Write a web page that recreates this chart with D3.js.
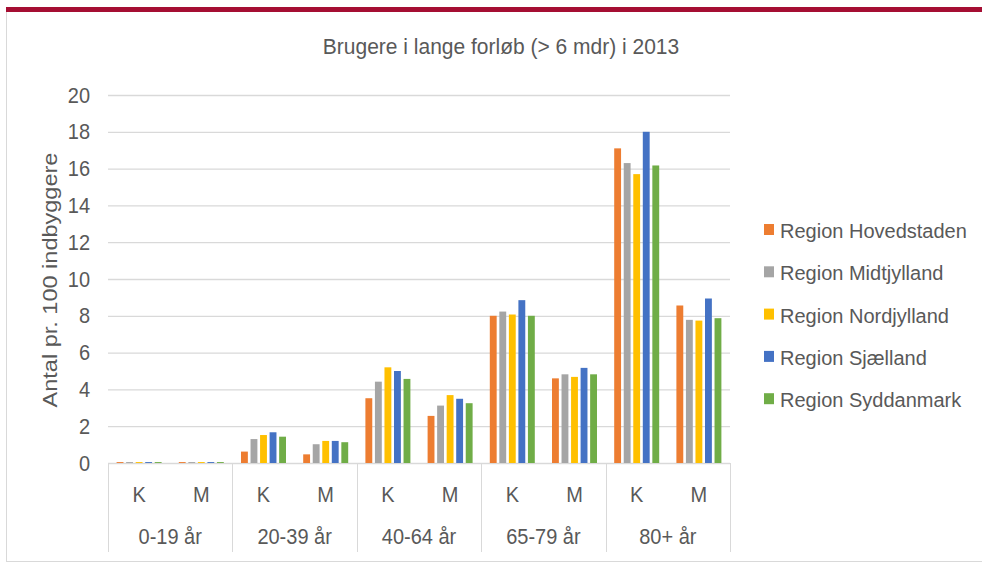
<!DOCTYPE html>
<html>
<head>
<meta charset="utf-8">
<script src="https://cdn.jsdelivr.net/npm/d3@7"></script>
<style>
  body { margin: 0; background: #fff; }
  svg text { font-family: "Liberation Sans", Arial, sans-serif; fill: #595959; }
</style>
</head>
<body>
<div id="chart"></div>
<script>
// data
var ageGroups = ["0-19 år", "20-39 år", "40-64 år", "65-79 år", "80+ år"];
var sexes = ["K", "M"];
var regions = ["Region Hovedstaden", "Region Midtjylland", "Region Nordjylland", "Region Sjælland", "Region Syddanmark"];
var yTicks = [0, 2, 4, 6, 8, 10, 12, 14, 16, 18, 20];

// one value per age group and sex (K, M), in order
var hovedstaden = [0.05, 0.05, 0.62, 0.47, 3.52, 2.56, 8.0, 4.6, 17.1, 8.56];
var midtjylland = [0.05, 0.05, 1.3, 1.02, 4.42, 3.12, 8.23, 4.82, 16.3, 7.78];
var nordjylland = [0.05, 0.05, 1.52, 1.2, 5.2, 3.69, 8.07, 4.68, 15.7, 7.74];
var sjaelland = [0.05, 0.05, 1.67, 1.2, 5.0, 3.49, 8.85, 5.17, 18.0, 8.94];
var syddanmark = [0.05, 0.05, 1.43, 1.13, 4.57, 3.25, 8.0, 4.82, 16.17, 7.87];
var seriesValues = [hovedstaden, midtjylland, nordjylland, sjaelland, syddanmark];

var colors = d3.scaleOrdinal()
  .domain(regions)
  .range(["#ED7D31", "#A5A5A5", "#FFC000", "#4472C4", "#70AD47"]);

var W = 982, H = 563;
var plot = {left: 108, right: 730, top: 95, bottom: 463};
var sy = 1.12; // text in the picture is a bit stretched vertically

var svg = d3.select("#chart").append("svg")
  .attr("width", W)
  .attr("height", H);

// frame: red bar on top, light border left and bottom
svg.append("rect")
  .attr("x", 6).attr("y", 7).attr("width", W - 6).attr("height", 5)
  .attr("fill", "#A50E33");
svg.append("line")
  .attr("x1", 6.5).attr("x2", 6.5).attr("y1", 12).attr("y2", 561)
  .attr("stroke", "#d9d9d9");
svg.append("line")
  .attr("x1", 6).attr("x2", W).attr("y1", 561.5).attr("y2", 561.5)
  .attr("stroke", "#d9d9d9");

// build rows: one per sub category (age group + sex)
var subKeys = [];
ageGroups.forEach(function(g) {
  sexes.forEach(function(s) { subKeys.push(g + "|" + s); });
});
var rows = subKeys.map(function(k, i) {
  return {key: k, values: regions.map(function(r, j) { return {region: r, value: seriesValues[j][i]}; })};
});

// scales
var xGroup = d3.scaleBand().domain(ageGroups).range([plot.left, plot.right]);
var xSub = d3.scaleBand().domain(subKeys).range([plot.left, plot.right]);
var xInner = d3.scaleBand().domain(regions)
  .range([8.6, xSub.bandwidth() - 8.6])
  .paddingInner(0.28);
var y = d3.scaleLinear().domain([0, 20]).range([plot.bottom, plot.top]);

// gridlines + y axis
var yAxis = svg.append("g")
  .attr("transform", "translate(" + plot.left + ",0)")
  .call(d3.axisLeft(y).tickValues(yTicks).tickSize(-(plot.right - plot.left)).tickPadding(18));
yAxis.select(".domain").remove();
yAxis.selectAll(".tick line").attr("stroke", "#d9d9d9").attr("stroke-width", 1.3);
yAxis.selectAll(".tick text")
  .attr("font-size", 20)
  .attr("transform", "scale(1," + sy + ")")
  .style("fill", "#595959");

// bars
var sub = svg.append("g").selectAll("g")
  .data(rows)
  .enter()
  .append("g")
    .attr("transform", function(d) { return "translate(" + xSub(d.key) + ",0)"; });

sub.selectAll("rect")
  .data(function(d) { return d.values; })
  .enter()
  .append("rect")
    .attr("x", function(d) { return xInner(d.region); })
    .attr("y", function(d) { return y(d.value); })
    .attr("width", xInner.bandwidth())
    .attr("height", function(d) { return y(0) - y(d.value); })
    .attr("fill", function(d) { return colors(d.region); });

// category dividers below the axis
var bounds = ageGroups.map(function(g) { return xGroup(g); }).concat([plot.right]);
svg.append("g").selectAll("line")
  .data(bounds)
  .enter()
  .append("line")
    .attr("x1", function(d) { return Math.round(d) + 0.5; })
    .attr("x2", function(d) { return Math.round(d) + 0.5; })
    .attr("y1", plot.bottom)
    .attr("y2", 552)
    .attr("stroke", "#d9d9d9");

// K / M labels
svg.append("g").selectAll("text")
  .data(subKeys)
  .enter()
  .append("text")
    .attr("text-anchor", "middle")
    .attr("font-size", 20)
    .attr("transform", function(d) { return "translate(" + (xSub(d) + xSub.bandwidth() / 2) + ",502) scale(1," + sy + ")"; })
    .text(function(d) { return d.split("|")[1]; });

// age group labels
svg.append("g").selectAll("text")
  .data(ageGroups)
  .enter()
  .append("text")
    .attr("text-anchor", "middle")
    .attr("font-size", 20)
    .attr("transform", function(d) { return "translate(" + (xGroup(d) + xGroup.bandwidth() / 2) + ",544) scale(1," + sy + ")"; })
    .text(function(d) { return d; });

// title
svg.append("text")
  .attr("text-anchor", "middle")
  .attr("font-size", 21)
  .attr("transform", "translate(501,54) scale(1,1.05)")
  .text("Brugere i lange forløb (> 6 mdr) i 2013");

// y axis title
svg.append("text")
  .attr("text-anchor", "middle")
  .attr("font-size", 21)
  .attr("transform", "translate(57,280) rotate(-90) scale(" + sy + ",1)")
  .text("Antal pr. 100 indbyggere");

// legend
var legend = svg.append("g").selectAll("g")
  .data(regions)
  .enter()
  .append("g")
    .attr("transform", function(d, i) { return "translate(764," + (238 + i * 42.3) + ")"; });
legend.append("rect")
  .attr("x", 0).attr("y", -14).attr("width", 10).attr("height", 11)
  .attr("fill", function(d) { return colors(d); });
legend.append("text")
  .attr("x", 16)
  .attr("font-size", 20)
  .text(function(d) { return d; });
</script>
</body>
</html>
